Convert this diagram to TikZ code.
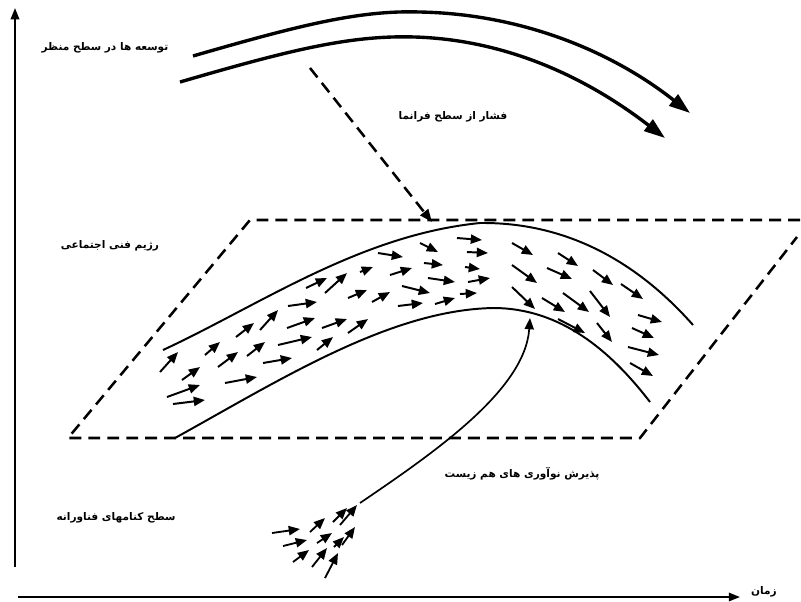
\documentclass[tikz,border=0pt]{standalone}
\usepackage{fontspec}
\newfontfamily\arabicfont[Script=Arabic]{DejaVu Sans}
\TeXXeTstate=1
\usetikzlibrary{arrows.meta}

\begin{document}
\begin{tikzpicture}[
        x=0.025cm, y=-0.025cm,
        farsi/.style={font=\arabicfont\bfseries\fontsize{7.5}{9}\selectfont, inner sep=0pt},
        axis/.style={-{Triangle[length=8pt, width=6pt]}, line width=1.4pt},
        landscape/.style={-{Triangle[length=15pt, width=10pt]}, line width=2.4pt},
        regime/.style={line width=1.8pt, dash pattern=on 8.5pt off 5pt},
        pressure/.style={regime, -{Triangle[length=9pt, width=7pt]}},
        band/.style={line width=1.4pt},
        flow/.style={-{Triangle[length=8pt, width=6.5pt]}, line width=1.4pt},
        uptake/.style={-{Triangle[length=8pt, width=6.5pt]}, line width=1.3pt}
    ]
        \useasboundingbox (0,0) rectangle (801,601);

        % Axes
        \coordinate (origin) at (15,567);
        \coordinate (ytop) at (15,8);
        \coordinate (xleft) at (18,597);
        \coordinate (xright) at (740,597);
        \draw[axis] (origin) -- (ytop);
        \draw[axis] (xleft) -- (xright);

        % Landscape developments
        \draw[landscape] (193,56) .. controls (300,25) and (360,10) .. (420,12)
            .. controls (520,14) and (610,50) .. (690,113);
        \draw[landscape] (180,82) .. controls (290,50) and (350,35) .. (415,37)
            .. controls (510,40) and (590,80) .. (665,138);

        % Pressure on the regime
        \coordinate (push) at (310,68);
        \coordinate (hit) at (432,222);
        \draw[pressure] (push) -- (hit);

        % Socio-technical regime plane
        \draw[regime] (800,220) -- (250,220) -- (68,438) -- (640,438) -- (797,237);

        % Regime band
        \draw[band] (163,350) .. controls (260,305) and (360,235) .. (480,223)
            .. controls (570,222) and (640,265) .. (693,325);
        \draw[band] (175,438) .. controls (280,380) and (390,310) .. (493,308)
            .. controls (560,308) and (610,350) .. (650,402);

        % Arrows inside the band
        \foreach \xa/\ya/\xb/\yb in {
            160/372/178/352, 182/380/200/367, 167/397/200/385, 173/404/205/400,
            205/355/220/342, 218/367/238/352, 225/383/257/377, 236/337/254/323,
            247/356/265/342, 260/330/278/310, 263/363/292/358, 278/345/312/337,
            287/328/315/318, 288/306/317/302, 317/350/333/337, 322/328/347/319,
            348/333/368/319, 306/288/327/278, 325/293/347/273, 348/298/367/290,
            360/272/373/267, 372/302/390/292, 378/253/403/257, 390/275/412/268,
            398/306/423/303, 402/286/430/293, 420/243/438/252, 424/263/443/265,
            428/278/455/282, 435/304/455/298, 457/238/482/240, 467/252/488/253,
            465/267/480/269, 468/282/490/278, 460/294/477/293, 512/243/533/255,
            512/265/537/283, 512/287/535/309, 558/253/578/266, 547/268/572/279,
            542/298/565/312, 563/293/589/312, 558/319/585/333, 593/270/613/285,
            590/291/610/317, 597/323/612/342, 621/284/643/299, 638/315/662/322,
            632/328/654/338, 628/347/659/355, 630/363/653/376}
            \draw[flow] (\xa,\ya) -- (\xb,\yb);

        % Technological niches
        \foreach \xa/\ya/\xb/\yb in {
            272/533/300/529, 283/546/307/540, 293/562/309/550, 310/532/325/518,
            312/567/327/548, 317/543/332/533, 325/578/338/553, 333/522/347/508,
            334/547/344/537, 340/525/357/505, 342/545/355/527}
            \draw[uptake] (\xa,\ya) -- (\xb,\yb);
        \coordinate (niche) at (360,503);
        \coordinate (entry) at (530,318);
        \draw[uptake, line width=1.2pt] (niche) .. controls (435,452) and (525,390) .. (entry);

        % Labels
        \node[farsi] (landlabel) at (105,48) {\beginR توسعه ها در سطح منظر\endR};
        \node[farsi] (presslabel) at (453,117) {\beginR فشار از سطح فرانما\endR};
        \node[farsi] (regimelabel) at (110,246) {\beginR رژیم فنی اجتماعی\endR};
        \node[farsi] (uptakelabel) at (522,474) {\beginR پذیرش نوآوری های هم زیست\endR};
        \node[farsi] (nichelabel) at (116,518) {\beginR سطح کنامهای فناورانه\endR};
        \node[farsi] (timelabel) at (764,592) {\beginR زمان\endR};
    \end{tikzpicture}
\end{document}
